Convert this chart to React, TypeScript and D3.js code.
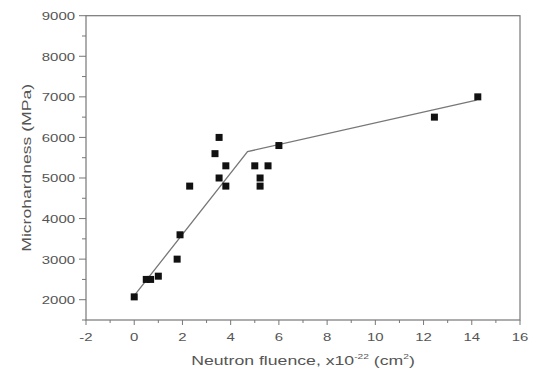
import React from "react";
import * as d3 from "d3";

const fluence = [0, 0.5, 0.68, 1.0, 1.78, 1.9, 2.3, 3.35, 3.52, 3.8, 3.52, 3.8, 5.0, 5.55, 5.22, 5.22, 6.0, 12.45, 14.25];
const hardness = [2070, 2500, 2500, 2580, 3000, 3600, 4800, 5600, 6000, 5300, 5000, 4800, 5300, 5300, 5000, 4800, 5800, 6500, 7000];
const fitX = [0, 4.7, 14.2];
const fitY = [2100, 5650, 6920];
const xTicks = [-2, 0, 2, 4, 6, 8, 10, 12, 14, 16];
const yTicks = [2000, 3000, 4000, 5000, 6000, 7000, 8000, 9000];

const W = 537, H = 373;
const L = 86, R = 520, T = 15.7, B = 320;
const SX = 1.3;

export default function App() {
  const x = d3.scaleLinear().domain([-2, 16]).range([L, R]);
  const y = d3.scaleLinear().domain([1500, 9000]).range([B, T]);
  const line = d3.line<number>().x((d) => x(fitX[d])).y((d) => y(fitY[d]));
  const minorX = d3.range(-2, 16.01, 1);
  const minorY = d3.range(1500, 9000.1, 500);
  const axisCol = "#777";
  const textCol = "#555";
  const font = "'Liberation Sans', Arial, sans-serif";
  return (
    <svg width={W} height={H} style={{ position: "absolute", left: 0, top: 0, background: "#fff" }} fontFamily={font}>
      <rect x={L} y={T} width={R - L} height={B - T} fill="none" stroke={axisCol} strokeWidth={1.2} />
      {minorX.map((v) => (
        <line key={"mx" + v} x1={x(v)} x2={x(v)} y1={B} y2={B + (v % 2 === 0 ? 5 : 3)} stroke={axisCol} strokeWidth={1} />
      ))}
      {minorY.map((v) => (
        <line key={"my" + v} x1={L} x2={L - (v % 1000 === 0 ? 7 : 4)} y1={y(v)} y2={y(v)} stroke={axisCol} strokeWidth={1} />
      ))}
      {xTicks.map((v) => (
        <g key={"xt" + v} transform={`translate(${x(v)},${341}) scale(${SX},1)`}>
          <text textAnchor="middle" fontSize={11.5} fill={textCol}>{v}</text>
        </g>
      ))}
      {yTicks.map((v) => (
        <g key={"yt" + v} transform={`translate(${75},${y(v) + 4.5}) scale(${SX},1)`}>
          <text textAnchor="end" fontSize={11.5} fill={textCol}>{v}</text>
        </g>
      ))}
      <g transform={`translate(${(L + R) / 2},${365}) scale(1.36,1)`}>
        <text textAnchor="middle" fontSize={13} fill={textCol}>
          Neutron fluence, x10<tspan dy={-6} fontSize={7.5}>-22</tspan>
          <tspan dy={6}> (cm</tspan>
          <tspan dy={-6} fontSize={7.5}>2</tspan>
          <tspan dy={6}>)</tspan>
        </text>
      </g>
      <g transform={`translate(${31},${(T + B) / 2}) rotate(-90) scale(1.35,1)`}>
        <text textAnchor="middle" fontSize={13} fill={textCol}>Microhardness (MPa)</text>
      </g>
      <path d={line(d3.range(fitX.length)) || ""} fill="none" stroke="#777" strokeWidth={1.3} />
      {fluence.map((f, i) => (
        <rect key={"p" + i} x={x(f) - 3.5} y={y(hardness[i]) - 3.5} width={7} height={7} fill="#111" />
      ))}
    </svg>
  );
}
